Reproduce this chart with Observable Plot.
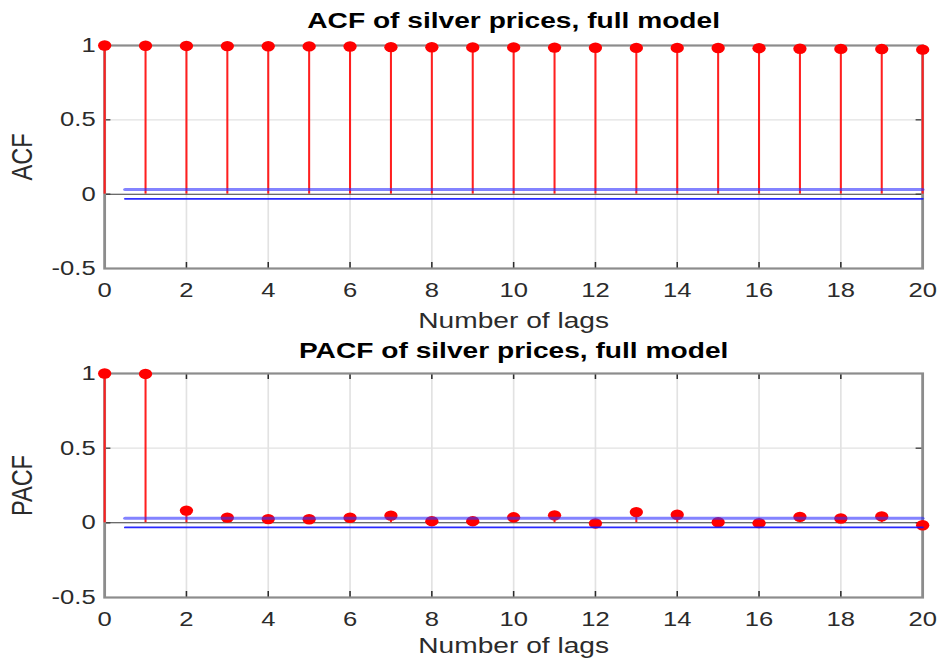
<!DOCTYPE html>
<html>
<head>
<meta charset="utf-8">
<script src="https://cdn.jsdelivr.net/npm/d3@7"></script>
<script src="https://cdn.jsdelivr.net/npm/@observablehq/plot@0.6"></script>
<style>
  html, body { margin: 0; padding: 0; background: #fff; overflow: hidden; }
  #chart { width: 939px; height: 662px; position: relative; overflow: hidden; }
  #chart svg { display: block; transform-origin: 0 0; }
</style>
</head>
<body>
<div id="chart"></div>
<script>
// Lags shown on the x axis
const lags = [0, 1, 2, 3, 4, 5, 6, 7, 8, 9, 10, 11, 12, 13, 14, 15, 16, 17, 18, 19, 20];

// Sample autocorrelation of silver prices
const acfValues = [1.000, 0.998, 0.997, 0.996, 0.995, 0.994, 0.993, 0.989, 0.988, 0.987, 0.987,
                   0.986, 0.985, 0.984, 0.984, 0.983, 0.982, 0.978, 0.977, 0.976, 0.972];

// Sample partial autocorrelation of silver prices
const pacfValues = [1.000, 0.997, 0.082, 0.035, 0.025, 0.024, 0.034, 0.048, 0.011, 0.011, 0.037,
                    0.050, -0.004, 0.072, 0.054, 0.004, -0.002, 0.040, 0.029, 0.043, -0.016];

// Approximate 95% confidence bound and the lag where it starts
const confBound = 0.031;
const confStart = 0.5;

// Axis ticks
const xTicks = [0, 2, 4, 6, 8, 10, 12, 14, 16, 18, 20];
const yTicks = [-0.5, 0, 0.5, 1];
const yDomain = [-0.5, 1];

const titles = ["ACF of silver prices, full model", "PACF of silver prices, full model"];
const yLabels = ["ACF", "PACF"];
const xLabel = "Number of lags";

// The figure is laid out narrow and widened horizontally
const FULL_W = 939;
const W = 734;
const STRETCH = FULL_W / W;
const ML = 104 / STRETCH;
const MR = 17 / STRETCH;

function panel({values, title, ylabel, height, marginTop, marginBottom, titleDy, xlabelDy}) {
  const rows = lags.map((lag, i) => ({lag, value: values[i]}));
  const lastLag = lags[lags.length - 1];
  const upper = [{lag: confStart, v: confBound}, {lag: lastLag, v: confBound}];
  const lower = [{lag: confStart, v: -confBound}, {lag: lastLag, v: -confBound}];
  const plotH = height - marginTop - marginBottom;
  const plotW = W - ML - MR;
  const innerX = xTicks.slice(1, -1);
  const innerY = yTicks.slice(1, -1);
  return Plot.plot({
    width: W,
    height,
    marginLeft: ML,
    marginRight: MR,
    marginTop,
    marginBottom,
    style: {
      fontFamily: "'Liberation Sans', Arial, Helvetica, sans-serif",
      fontSize: "20px",
      color: "#2b2b2b",
      background: "white",
      overflow: "visible"
    },
    x: {domain: [lags[0], lastLag]},
    y: {domain: yDomain},
    marks: [
      // light grid
      Plot.ruleX(innerX, {stroke: "#e2e2e2", strokeWidth: 1.3}),
      Plot.ruleY(innerY.filter(d => d !== 0), {stroke: "#e2e2e2", strokeWidth: 1.3}),
      // inward tick marks on all four sides
      Plot.tickX(innerX, {insetTop: plotH - 6, stroke: "#2b2b2b", strokeWidth: 1.2}),
      Plot.tickX(innerX, {insetBottom: plotH - 6, stroke: "#2b2b2b", strokeWidth: 1.2}),
      Plot.tickY(innerY, {insetRight: plotW - 5, stroke: "#2b2b2b", strokeWidth: 1.2}),
      Plot.tickY(innerY, {insetLeft: plotW - 5, stroke: "#2b2b2b", strokeWidth: 1.2}),
      // baseline at zero and the axes box
      Plot.ruleY([0], {stroke: "#3a3a3a", strokeWidth: 1}),
      Plot.frame({stroke: "#8c8c8c", strokeWidth: 2.2}),
      // stems and markers
      Plot.ruleX(rows, {x: "lag", y1: 0, y2: "value", stroke: "#ff1f1f", strokeWidth: 1.6}),
      Plot.dot(rows, {x: "lag", y: "value", r: 5.2, fill: "#ff0000"}),
      // confidence bounds
      Plot.lineY(upper, {x: "lag", y: "v", stroke: "#3030ff", strokeOpacity: 0.6, strokeWidth: 3}),
      Plot.lineY(lower, {x: "lag", y: "v", stroke: "#1414ff", strokeOpacity: 0.9, strokeWidth: 1.8}),
      // tick labels
      Plot.axisX({ticks: xTicks, tickSize: 0, tickPadding: 14.5, tickFormat: d => String(d), label: null}),
      Plot.axisY({ticks: yTicks, tickSize: 0, tickPadding: 7, tickFormat: d => String(d), label: null}),
      // title and axis labels
      Plot.text([title], {text: d => d, frameAnchor: "top", lineAnchor: "top", dy: titleDy,
        fontWeight: "bold", fontSize: 22, fill: "#000"}),
      Plot.text([ylabel], {text: d => d, frameAnchor: "left", textAnchor: "middle", lineAnchor: "middle",
        dx: -64, rotate: -90, fontSize: 23.5, fill: "#2b2b2b"}),
      Plot.text([xLabel], {text: d => d, frameAnchor: "bottom", lineAnchor: "bottom", dy: xlabelDy,
        fontSize: 22, fill: "#2b2b2b"})
    ]
  });
}

const chart = document.getElementById("chart");
const acfPanel = panel({values: acfValues, title: titles[0], ylabel: yLabels[0],
  height: 336, marginTop: 45, marginBottom: 68, titleDy: -33, xlabelDy: 59});
const pacfPanel = panel({values: pacfValues, title: titles[1], ylabel: yLabels[1],
  height: 326, marginTop: 37, marginBottom: 65, titleDy: -31, xlabelDy: 55});
for (const svg of [acfPanel, pacfPanel]) {
  svg.style.transform = `scaleX(${STRETCH})`;
  svg.style.transformOrigin = "0 0";
  svg.style.maxWidth = "none";
  chart.appendChild(svg);
}
</script>
</body>
</html>
